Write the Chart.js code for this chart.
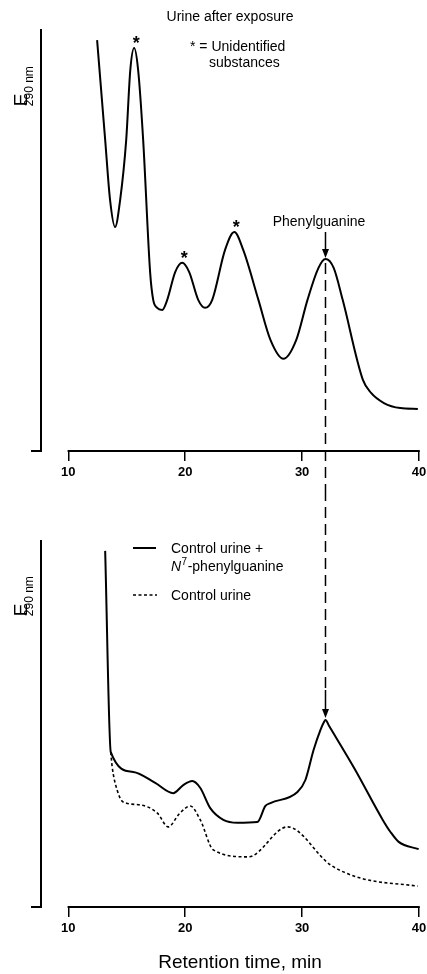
<!DOCTYPE html>
<html>
<head>
<meta charset="utf-8">
<script src="https://cdn.jsdelivr.net/npm/chart.js@4.4.0/dist/chart.umd.min.js"></script>
<style>
  html, body { margin: 0; padding: 0; background: #fff; overflow: hidden; }
  #wrap { position: relative; width: 427px; height: 974px; }
  .box { position: absolute; left: 0; width: 427px; }
</style>
</head>
<body>
<div id="wrap">
  <div class="box" style="top:0;height:490px"><canvas id="topChart"></canvas></div>
  <div class="box" style="top:490px;height:484px"><canvas id="bottomChart"></canvas></div>
</div>
<script>
'use strict';

// x ticks shared by both panels
var xTicks = [10, 20, 30, 40];

// top panel: urine after exposure (absorbance, arbitrary units 0-100)
var topX = [12.46, 13.15, 13.57, 14.0, 14.43, 14.95, 15.3, 15.63, 15.97, 16.4, 17.0, 17.26, 17.6, 18.03,
  18.46, 19.14, 19.74, 20.34, 21.11, 21.7, 22.31, 23.4, 24.2, 24.97, 26.26, 27.29, 28.4, 29.5,
  30.46, 31.4, 32.0, 32.7, 33.47, 35.2, 35.9, 37.0, 38.4, 39.9];
var topY = [97.6, 73.9, 59.6, 53.2, 59.6, 73.9, 90.5, 95.7, 90.5, 73.9, 42.3, 35.9, 34.0, 33.5,
  35.9, 42.5, 44.7, 42.5, 35.9, 34.0, 35.9, 47.7, 52.0, 47.7, 35.9, 26.4, 21.9, 26.4,
  35.9, 43.5, 45.6, 43.5, 35.9, 16.9, 13.8, 11.4, 10.2, 10.0];

// bottom panel: control urine + N7-phenylguanine (solid)
var spikedX = [13.15, 13.63, 15.55, 17.43, 18.97, 19.83, 20.6, 21.29, 22.14, 23.26, 24.46, 26.17,
  26.86, 27.29, 29.6, 30.28, 30.98, 31.57, 31.85, 32.0, 32.3, 34.5, 36.9, 37.56, 38.26, 39.97];
var spikedY = [97.3, 42.3, 36.9, 33.9, 31.1, 33.3, 34.4, 32.5, 27.0, 23.8, 23.0, 23.2,
  27.6, 28.4, 31.4, 34.7, 42.9, 48.4, 50.4, 51.1, 49.5, 37.7, 23.8, 20.5, 17.8, 15.8];

// bottom panel: control urine (dotted)
var controlX = [13.63, 13.75, 14.17, 14.69, 16.14, 17.6, 18.55, 19.5, 20.43, 21.29, 22.4, 25.4,
  28.75, 32.43, 35.0, 39.89];
var controlY = [42.3, 38.3, 32.0, 28.7, 27.9, 25.7, 21.9, 25.5, 27.6, 23.8, 15.6, 13.7,
  21.9, 11.5, 7.9, 5.7];

// peaks marked with an asterisk in the top panel
var starX = [15.63, 19.74, 24.2];
var starY = [95.7, 44.7, 52.0];

var phenylX = 32.0;

var TXT = "'Liberation Sans', Arial, sans-serif";

function toPoints(xs, ys){
  var pts = [];
  for (var i = 0; i < xs.length; i++){
    pts.push({x: xs[i], y: ys[i]});
  }
  return pts;
}

function drawE(ctx, cx, cy){
  // rotated E with subscript 290 nm
  ctx.save();
  ctx.translate(cx, cy);
  ctx.rotate(-Math.PI / 2);
  ctx.fillStyle = '#000';
  ctx.textBaseline = 'alphabetic';
  ctx.font = '19px ' + TXT;
  var w1 = ctx.measureText('E').width;
  ctx.font = '12px ' + TXT;
  var w2 = ctx.measureText('290 nm').width;
  var start = -(w1 + w2 + 1) / 2;
  ctx.font = '19px ' + TXT;
  ctx.fillText('E', start, 0);
  ctx.font = '12px ' + TXT;
  ctx.fillText('290 nm', start + w1 + 1, 6);
  ctx.restore();
}

function arrowDown(ctx, x, y1, tip){
  ctx.beginPath();
  ctx.moveTo(x, y1);
  ctx.lineTo(x, tip - 8);
  ctx.stroke();
  ctx.beginPath();
  ctx.moveTo(x - 3.5, tip - 9);
  ctx.lineTo(x + 3.5, tip - 9);
  ctx.lineTo(x, tip);
  ctx.closePath();
  ctx.fill();
}

function xAxisLine(chart){
  var ctx = chart.ctx, a = chart.chartArea, x = chart.scales.x;
  ctx.strokeStyle = '#000';
  ctx.lineWidth = 2;
  ctx.beginPath();
  ctx.moveTo(x.getPixelForValue(xTicks[0]) - 0.75, a.bottom);
  ctx.lineTo(x.getPixelForValue(xTicks[xTicks.length - 1]) + 0.75, a.bottom);
  ctx.stroke();
}

var topNotes = {
  id: 'topNotes',
  afterDraw: function(chart){
    var ctx = chart.ctx, x = chart.scales.x, y = chart.scales.y;
    ctx.save();
    xAxisLine(chart);
    ctx.fillStyle = '#000';
    ctx.strokeStyle = '#000';
    ctx.textAlign = 'center';
    ctx.textBaseline = 'middle';
    ctx.font = '14px ' + TXT;
    ctx.fillText('Urine after exposure', 230, 17);
    ctx.textAlign = 'left';
    ctx.fillText('* = Unidentified', 190, 47);
    ctx.fillText('substances', 209, 63);
    ctx.textAlign = 'center';
    ctx.fillText('Phenylguanine', 319, 222);
    // asterisks above peaks
    ctx.font = 'bold 18px ' + TXT;
    for (var i = 0; i < starX.length; i++){
      ctx.fillText('*', x.getPixelForValue(starX[i]) + 2, y.getPixelForValue(starY[i]) - 4);
    }
    var px = x.getPixelForValue(phenylX);
    var peak = y.getPixelForValue(topY[topX.indexOf(phenylX)]);
    ctx.lineWidth = 1.5;
    arrowDown(ctx, px, 232, peak - 1);
    // dashed connector down to the lower panel
    ctx.setLineDash([11, 6]);
    ctx.beginPath();
    ctx.moveTo(px, peak + 4);
    ctx.lineTo(px, chart.height);
    ctx.stroke();
    ctx.setLineDash([]);
    drawE(ctx, 27, 73);
    ctx.restore();
  }
};

var bottomNotes = {
  id: 'bottomNotes',
  afterDraw: function(chart){
    var ctx = chart.ctx, x = chart.scales.x, y = chart.scales.y;
    ctx.save();
    xAxisLine(chart);
    ctx.fillStyle = '#000';
    ctx.strokeStyle = '#000';
    var px = x.getPixelForValue(phenylX);
    var peak = y.getPixelForValue(spikedY[spikedX.indexOf(phenylX)]);
    ctx.lineWidth = 1.5;
    ctx.setLineDash([11, 6]);
    ctx.beginPath();
    ctx.moveTo(px, 0);
    ctx.lineTo(px, 198);
    ctx.stroke();
    ctx.setLineDash([]);
    arrowDown(ctx, px, 200, peak - 2);
    // legend
    ctx.lineWidth = 2;
    ctx.beginPath();
    ctx.moveTo(133, 58); ctx.lineTo(156, 58);
    ctx.stroke();
    ctx.lineWidth = 1.5;
    ctx.setLineDash([3, 2.5]);
    ctx.beginPath();
    ctx.moveTo(133, 105); ctx.lineTo(157, 105);
    ctx.stroke();
    ctx.setLineDash([]);
    ctx.textAlign = 'left';
    ctx.textBaseline = 'alphabetic';
    ctx.font = '14px ' + TXT;
    ctx.fillText('Control urine +', 171, 63);
    ctx.font = 'italic 14px ' + TXT;
    ctx.fillText('N', 171, 81);
    var wN = ctx.measureText('N').width;
    ctx.font = '10px ' + TXT;
    ctx.fillText('7', 171 + wN + 0.5, 75);
    var w7 = ctx.measureText('7').width;
    ctx.font = '14px ' + TXT;
    ctx.fillText('-phenylguanine', 171 + wN + w7 + 1, 81);
    ctx.fillText('Control urine', 171, 110);
    // axis title
    ctx.textAlign = 'center';
    ctx.textBaseline = 'middle';
    ctx.font = '19px ' + TXT;
    ctx.fillText('Retention time, min', 240, 473);
    drawE(ctx, 27, 93);
    ctx.restore();
  }
};

function makeScales(xHeight){
  return {
    x: {
      type: 'linear',
      min: 7.66,
      max: 40,
      afterBuildTicks: function(scale){
        scale.ticks = xTicks.map(function(v){ return {value: v}; });
      },
      afterFit: function(scale){
        scale.height = xHeight;
        scale.paddingLeft = 0;
        scale.paddingRight = 8;
      },
      border: {display: false},
      grid: {drawOnChartArea: false, drawTicks: true, tickLength: 10, color: '#000', lineWidth: 1.5},
      ticks: {color: '#000', padding: 4, maxRotation: 0, font: {family: TXT, size: 13, weight: 'bold'}}
    },
    y: {
      type: 'linear',
      min: 0,
      max: 100,
      afterBuildTicks: function(scale){
        scale.ticks = [{value: 0}];
      },
      afterFit: function(scale){ scale.width = 41; },
      border: {display: true, color: '#000', width: 2},
      grid: {drawOnChartArea: false, drawTicks: true, tickLength: 10, color: '#000', lineWidth: 2},
      ticks: {display: false}
    }
  };
}

var common = {
  responsive: true,
  maintainAspectRatio: false,
  animation: false,
  plugins: {legend: {display: false}, tooltip: {enabled: false}},
  elements: {point: {radius: 0}}
};

new Chart(document.getElementById('topChart'), {
  type: 'line',
  data: {
    datasets: [{
      label: 'Urine after exposure',
      data: toPoints(topX, topY),
      borderColor: '#000',
      borderWidth: 2,
      cubicInterpolationMode: 'monotone',
      fill: false
    }]
  },
  options: Object.assign({}, common, {
    layout: {padding: {top: 30, right: 0, left: 0, bottom: 0}},
    scales: makeScales(39)
  }),
  plugins: [topNotes]
});

new Chart(document.getElementById('bottomChart'), {
  type: 'line',
  data: {
    datasets: [{
      label: 'Control urine + N7-phenylguanine',
      data: toPoints(spikedX, spikedY),
      borderColor: '#000',
      borderWidth: 2,
      cubicInterpolationMode: 'monotone',
      fill: false
    }, {
      label: 'Control urine',
      data: toPoints(controlX, controlY),
      borderColor: '#000',
      borderWidth: 1.6,
      borderDash: [3, 2.5],
      cubicInterpolationMode: 'monotone',
      fill: false
    }]
  },
  options: Object.assign({}, common, {
    layout: {padding: {top: 51, right: 0, left: 0, bottom: 0}},
    scales: makeScales(67)
  }),
  plugins: [bottomNotes]
});
</script>
</body>
</html>
